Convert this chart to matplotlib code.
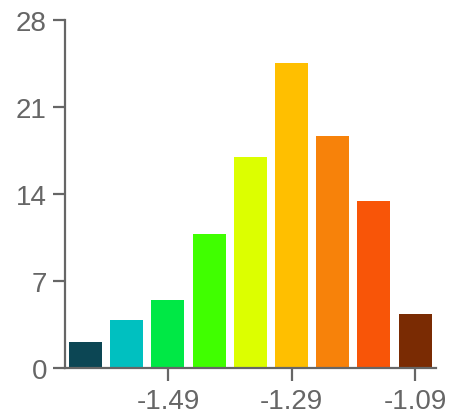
import matplotlib
matplotlib.use("Agg")
import matplotlib.pyplot as plt

bin_centers = [-1.6233, -1.5567, -1.49, -1.4233, -1.3567, -1.29, -1.2233, -1.1567, -1.09]
counts = [2.15, 3.9, 5.45, 10.8, 17.0, 24.5, 18.65, 13.45, 4.35]
colors = ["#0c4654", "#00c0c0", "#00e845", "#40ff00", "#dcff00",
          "#ffbf00", "#f7820a", "#f85508", "#7a2b03"]
xticks = [-1.49, -1.29, -1.09]
xtick_labels = ["-1.49", "-1.29", "-1.09"]
yticks = [0, 7, 14, 21, 28]

plt.rcParams['font.family'] = ['Liberation Sans', 'DejaVu Sans']
fig = plt.figure(figsize=(4.5, 4.1), dpi=100)
ax = fig.add_axes([0.1444, 0.0993, 0.8238, 0.8502])

bw = 0.2 / 3
ax.bar(bin_centers, counts, width=bw * 0.8, color=colors)
ax.set_xlim(bin_centers[0] - bw / 2, bin_centers[-1] + bw / 2)
ax.set_ylim(0, 28)
ax.set_xticks(xticks)
ax.set_xticklabels(xtick_labels)
ax.set_yticks(yticks)

grey = "#666666"
for s in ["top", "right"]:
    ax.spines[s].set_visible(False)
for s in ["left", "bottom"]:
    ax.spines[s].set_color(grey)
    ax.spines[s].set_linewidth(1.6)
ax.tick_params(axis="both", colors=grey, labelcolor=grey, labelsize=20,
               length=9, width=1.6, direction="out")
ax.tick_params(axis="x", pad=5)
ax.tick_params(axis="y", pad=4)

fig.savefig("out.png", dpi=100)
